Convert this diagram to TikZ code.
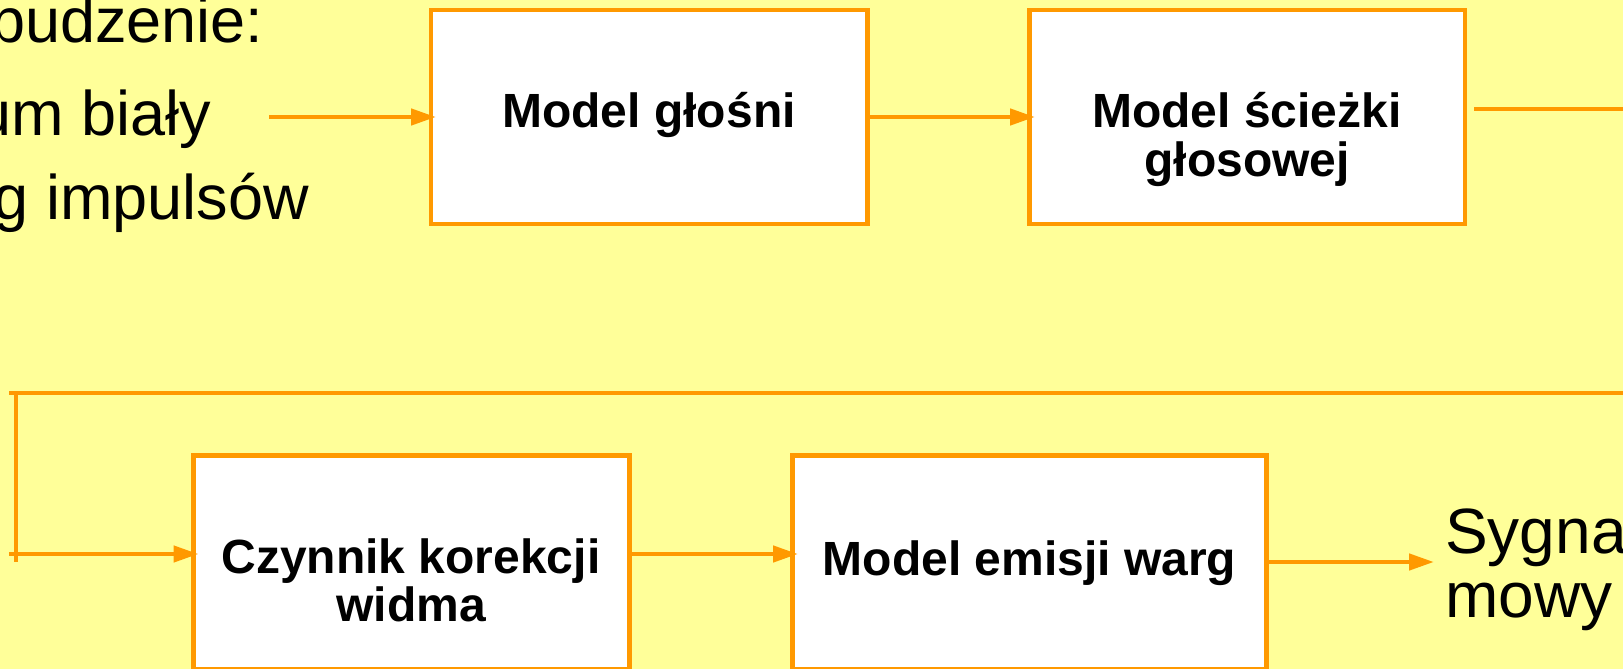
\documentclass[tikz,border=0pt]{standalone}
\usepackage{fontspec}
\setmainfont{Liberation Sans}
\usetikzlibrary{arrows.meta}

\definecolor{slidebg}{HTML}{FFFF99}
\definecolor{accent}{HTML}{FF9900}

\tikzset{
  blockbox/.style={draw=accent, fill=white, line width=4.5pt, outer sep=0pt,
    inner sep=0pt, minimum height=213.5pt},
  wire/.style={draw=accent, line width=4.5pt},
  flow/.style={wire, -{Triangle[length=25pt,width=16pt]}},
  boxlabel/.style={inner sep=0pt, anchor=base,
    font=\fontsize{48}{47}\selectfont\bfseries},
  bodytext/.style={inner sep=0pt, font=\fontsize{63}{70}\selectfont},
  outtext/.style={inner sep=0pt, font=\fontsize{64}{64}\selectfont},
}

\begin{document}
\begin{tikzpicture}[x=1pt,y=-1pt]
  % page and background
  \useasboundingbox (0,0) rectangle (1623,669);
  \clip (0,0) rectangle (1623,669);
  \fill[slidebg] (0,0) rectangle (1623,669);

  % excitation description
  \node[bodytext, anchor=base east] (exc)   at (263.5,43)  {Pobudzenie:};
  \node[bodytext, anchor=base east] (noise) at (211,135)   {Szum biały};
  \node[bodytext, anchor=base east] (pulse) at (309,219)   {Ciąg impulsów};

  % processing blocks
  \node[blockbox, minimum width=436.5pt] (b1) at (649.25,117)  {};
  \node[blockbox, minimum width=435.5pt] (b2) at (1247.25,117) {};
  \node[blockbox, minimum width=436pt]   (b3) at (411.5,562)   {};
  \node[blockbox, minimum width=474pt]   (b4) at (1029.5,562)  {};

  \node[boxlabel] (l1) at (649,128)  {Model głośni};
  \node[boxlabel] (l2) at (1247,128) {\begin{tabular}[t]{@{}c@{}}Model ścieżki\\głosowej\end{tabular}};
  \node[boxlabel] (l3) at (411,573)  {\begin{tabular}[t]{@{}c@{}}Czynnik korekcji\\widma\end{tabular}};
  \node[boxlabel] (l4) at (1029.5,575) {Model emisji warg};

  % output signal
  \node[outtext, anchor=base west] (out) at (1445,553)
    {\begin{tabular}[t]{@{}l@{}}Sygnał\\mowy\end{tabular}};

  % free ends of the connectors
  \coordinate (src)   at (269,117);
  \coordinate (o2)    at (1474,109);
  \coordinate (o2end) at (1640,109);
  \coordinate (fbR)   at (1640,393);
  \coordinate (fbL)   at (9,393);
  \coordinate (fbTop) at (16,393);
  \coordinate (fbBot) at (16,562);
  \coordinate (fbIn)  at (9,554);

  % upper chain
  \draw[flow, shorten >=-5pt] (src) -- (b1.west);
  \draw[flow, shorten >=-5.5pt] (b1.east) -- (b2.west);
  \draw[wire] (o2) -- (o2end);

  % return line to the lower chain
  \draw[wire] (fbR) -- (fbL);
  \draw[wire] (fbTop) -- (fbBot);
  \draw[flow, shorten >=-5pt] (fbIn) -- (fbIn -| b3.west);

  % lower chain
  \draw[flow, shorten >=-5.5pt] (b3.east |- fbIn) -- (b4.west |- fbIn);
  \draw[flow, shorten >=11pt] (b4.east) -- (b4.east -| out.west);
\end{tikzpicture}
\end{document}
